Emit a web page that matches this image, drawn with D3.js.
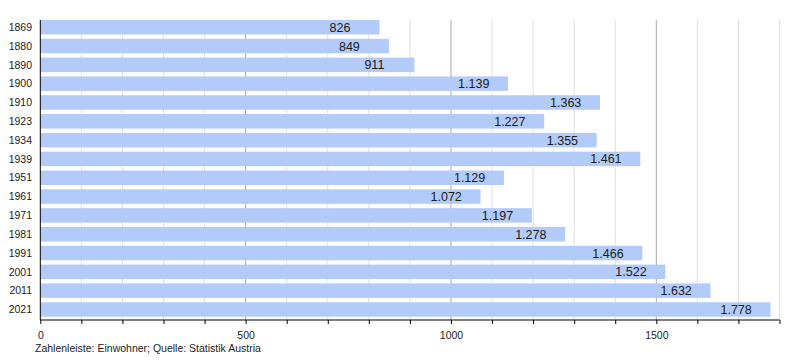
<!DOCTYPE html>
<html><head><meta charset="utf-8">
<script src="https://cdn.jsdelivr.net/npm/d3@7"></script>
<style>body{margin:0;background:#fff}svg{display:block;font-family:"Liberation Sans",Arial,sans-serif}</style>
</head><body><svg id="c" width="800" height="360"></svg>
<script>
const years = ["1869","1880","1890","1900","1910","1923","1934","1939","1951","1961","1971","1981","1991","2001","2011","2021"];
const population = [826,849,911,1139,1363,1227,1355,1461,1129,1072,1197,1278,1466,1522,1632,1778];
const labels = ["826","849","911","1.139","1.363","1.227","1.355","1.461","1.129","1.072","1.197","1.278","1.466","1.522","1.632","1.778"];
const majorTicks = [0,500,1000,1500];
const footnote = "Zahlenleiste: Einwohner; Quelle: Statistik Austria";

const svg = d3.select("#c");
const x = d3.scaleLinear().domain([0,1800]).range([40.3,779.5]);
const y = d3.scaleBand().domain(years).range([17.8,318.9]).paddingInner(0.23).paddingOuter(0.115);
const axisY = 320;

// gridlines
const minor = d3.range(100,1801,100).filter(v=>v%500!==0);
svg.append("g").selectAll("line").data(minor).join("line")
  .attr("x1",d=>x(d)).attr("x2",d=>x(d)).attr("y1",20).attr("y2",axisY)
  .attr("stroke","#e0e0e0").attr("stroke-width",1);
svg.append("g").selectAll("line").data(majorTicks.filter(d=>d>0)).join("line")
  .attr("x1",d=>x(d)).attr("x2",d=>x(d)).attr("y1",20).attr("y2",axisY)
  .attr("stroke","#a8a8a8").attr("stroke-width",1);

// bars
svg.append("g").selectAll("rect").data(population).join("rect")
  .attr("x",x(0)).attr("y",(d,i)=>y(years[i]))
  .attr("width",d=>x(d)-x(0)).attr("height",y.bandwidth())
  .attr("fill","#b3cbf9");

// value labels
svg.append("g").selectAll("text").data(population).join("text")
  .attr("x",d=>x(d)-50).attr("y",(d,i)=>y(years[i])+y.bandwidth()/2+4.5)
  .attr("font-size",12.5).attr("fill","#1a1a1a")
  .text((d,i)=>labels[i]);

// x axis
const xAxis = d3.axisBottom(x).tickValues(d3.range(0,1801,100)).tickSize(4)
  .tickFormat(d=>majorTicks.includes(d)?String(d):"");
const gx = svg.append("g").attr("transform",`translate(0,${axisY})`).call(xAxis);
gx.select(".domain").attr("stroke","#000").attr("d",`M${x(0)},0H${x(1800)}`);
gx.selectAll(".tick line").attr("stroke","#000");
gx.selectAll(".tick text").attr("font-size",10.5).attr("fill","#222").attr("dy","1.15em")
  .attr("font-family","Liberation Sans, Arial, sans-serif");

// y axis
svg.append("line").attr("x1",x(0)).attr("x2",x(0)).attr("y1",20).attr("y2",axisY).attr("stroke","#000");
svg.append("g").selectAll("text").data(years).join("text")
  .attr("x",32).attr("y",d=>y(d)+y.bandwidth()/2+3.7)
  .attr("text-anchor","end").attr("font-size",10.5).attr("fill","#222").text(d=>d);

svg.append("text").attr("x",35).attr("y",352).attr("font-size",10.5).attr("fill","#222").text(footnote);
</script></body></html>
